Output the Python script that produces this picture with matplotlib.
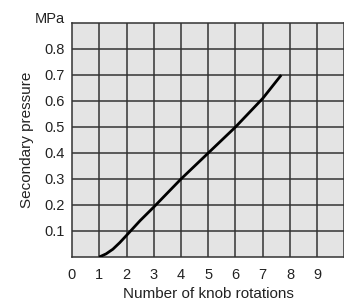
import matplotlib
matplotlib.use("Agg")
import matplotlib.pyplot as plt
import numpy as np

plt.rcParams['font.family'] = ['Liberation Sans', 'DejaVu Sans']

# Data
rotations = [1.0, 1.25, 1.5, 1.75, 2.0, 2.5, 3.0, 4.0, 5.0, 6.0, 7.0, 7.68]
pressure = [0.0, 0.012, 0.03, 0.055, 0.083, 0.14, 0.192, 0.30, 0.40, 0.50, 0.61, 0.70]

x_ticks = [0, 1, 2, 3, 4, 5, 6, 7, 8, 9]
y_ticks = [0.1, 0.2, 0.3, 0.4, 0.5, 0.6, 0.7, 0.8]

W, H = 344, 300
fig = plt.figure(figsize=(W / 100, H / 100), dpi=100)
left, right, top, bottom = 72, 344.5, 23, 257
ax = fig.add_axes([left / W, 1 - bottom / H, (right - left) / W, (bottom - top) / H])
ax.set_facecolor('#e4e4e4')
ax.set_xlim(0, 10)
ax.set_ylim(0, 0.9)

grid_color = '#333333'
for xv in range(1, 10):
    ax.axvline(xv, color=grid_color, lw=1.1, zorder=1)
for yv in np.arange(0.1, 0.85, 0.1):
    ax.axhline(yv, color=grid_color, lw=1.1, zorder=1)
for s in ax.spines.values():
    s.set_color(grid_color)
    s.set_linewidth(1.1)

ax.plot(rotations, pressure, color='black', lw=2.0, zorder=3,
        solid_capstyle='butt', solid_joinstyle='round')

ax.set_xticks(x_ticks)
ax.set_xticklabels([str(t) for t in x_ticks])
ax.set_yticks(y_ticks)
ax.set_yticklabels([f"{t:.1f}" for t in y_ticks])
ax.tick_params(length=0, labelsize=10.5, colors='#222222', pad=5)
ax.tick_params(axis='x', pad=8)

fig.text(65 / W, 1 - 19 / H, 'MPa', ha='right', va='center', fontsize=10.5, color='#222222')
fig.text(208 / W, 1 - 294 / H, 'Number of knob rotations', ha='center', va='center',
         fontsize=11, color='#222222')
fig.text(27 / W, 1 - 140 / H, 'Secondary pressure', ha='center', va='center',
         rotation=90, fontsize=11, color='#222222')

fig.savefig('out.png', dpi=100, facecolor='white')
